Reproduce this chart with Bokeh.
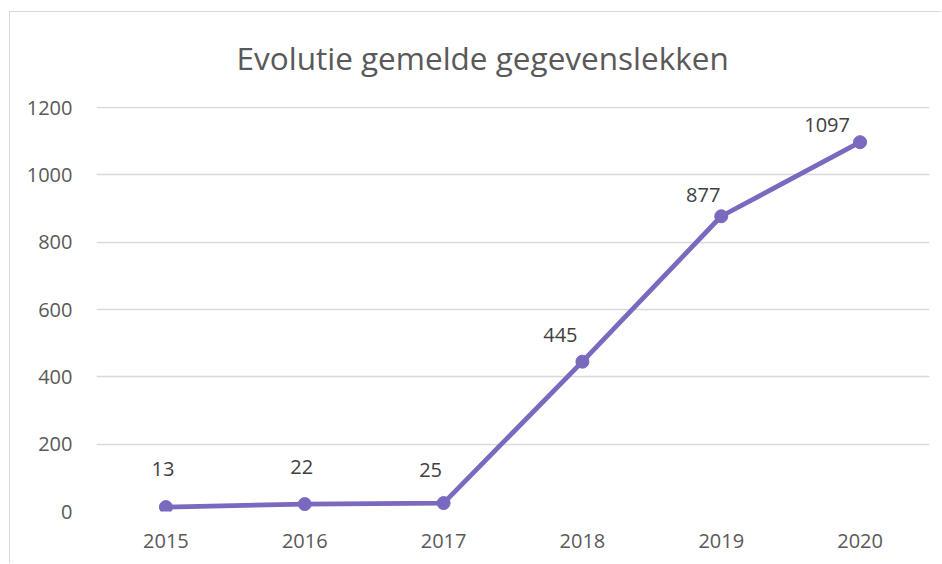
from bokeh.plotting import figure
from bokeh.models import (ColumnDataSource, FactorRange, Range1d, LabelSet,
                          FixedTicker, Title)
from bokeh.core.properties import value
from bokeh.embed import file_html
from bokeh.resources import INLINE

# ---- data ----
years = ["2015", "2016", "2017", "2018", "2019", "2020"]
counts = [13, 22, 25, 445, 877, 1097]
y_ticks = [0, 200, 400, 600, 800, 1000, 1200]
title_text = "Evolutie gemelde gegevenslekken"

# ---- label placement (styling, screen px) ----
label_dx = [-3, -3, -13, -22, -18, -33]
label_dy = [38, 37, 33, 27, 21, 17]

src = ColumnDataSource(dict(year=years, count=counts,
                            txt=[str(c) for c in counts],
                            dx=label_dx, dy=label_dy))

FONT = "Open Sans"
GREY = "#595959"
PURPLE = "#7B68BF"
BORDER = "#d9d9d9"

p = figure(x_range=FactorRange(*years), y_range=Range1d(0, 1203),
           width=932, height=562, output_backend="svg", toolbar_location=None,
           min_border_left=87, min_border_right=12, min_border_top=105,
           min_border_bottom=52)
p.styles = {
    "margin-left": "9px", "margin-top": "1px",
    "background": (f"linear-gradient({BORDER}, {BORDER}) 0px 10px / 100% 1px no-repeat, "
                   f"linear-gradient({BORDER}, {BORDER}) 0px 10px / 1px 100% no-repeat, "
                   "#ffffff"),
}
p.outline_line_color = None
p.background_fill_color = "white"
p.border_fill_color = None

p.title = Title(text=title_text, align="left", offset=140, standoff=52,
                vertical_align="top",
                text_font=FONT, text_font_size="31.5px", text_color=GREY,
                text_font_style="normal")

p.line(x="year", y="count", source=src, line_width=4.8, line_color=PURPLE)
p.scatter(x="year", y="count", source=src, size=13, fill_color=PURPLE, line_color=PURPLE)

labels = LabelSet(x="year", y="count", text="txt", source=src,
                  x_offset="dx", y_offset="dy", text_align="center",
                  text_baseline="middle", text_font=value(FONT),
                  text_font_size=value("20px"), text_color="#404040")
p.add_layout(labels)

# axes
for ax in (p.xaxis[0], p.yaxis[0]):
    ax.axis_line_color = None
    ax.major_tick_line_color = None
    ax.minor_tick_line_color = None
    ax.major_tick_out = 0
    ax.major_tick_in = 0
    ax.major_label_text_font = FONT
    ax.major_label_text_font_size = "20px"
    ax.major_label_text_color = GREY
p.yaxis.ticker = FixedTicker(ticks=y_ticks)
p.yaxis.major_label_standoff = 24
p.xaxis.major_label_standoff = 22

p.xgrid.grid_line_color = None
p.ygrid.grid_line_color = BORDER
p.ygrid.grid_line_width = 1.3

open("out.html", "w").write(file_html(p, INLINE))
